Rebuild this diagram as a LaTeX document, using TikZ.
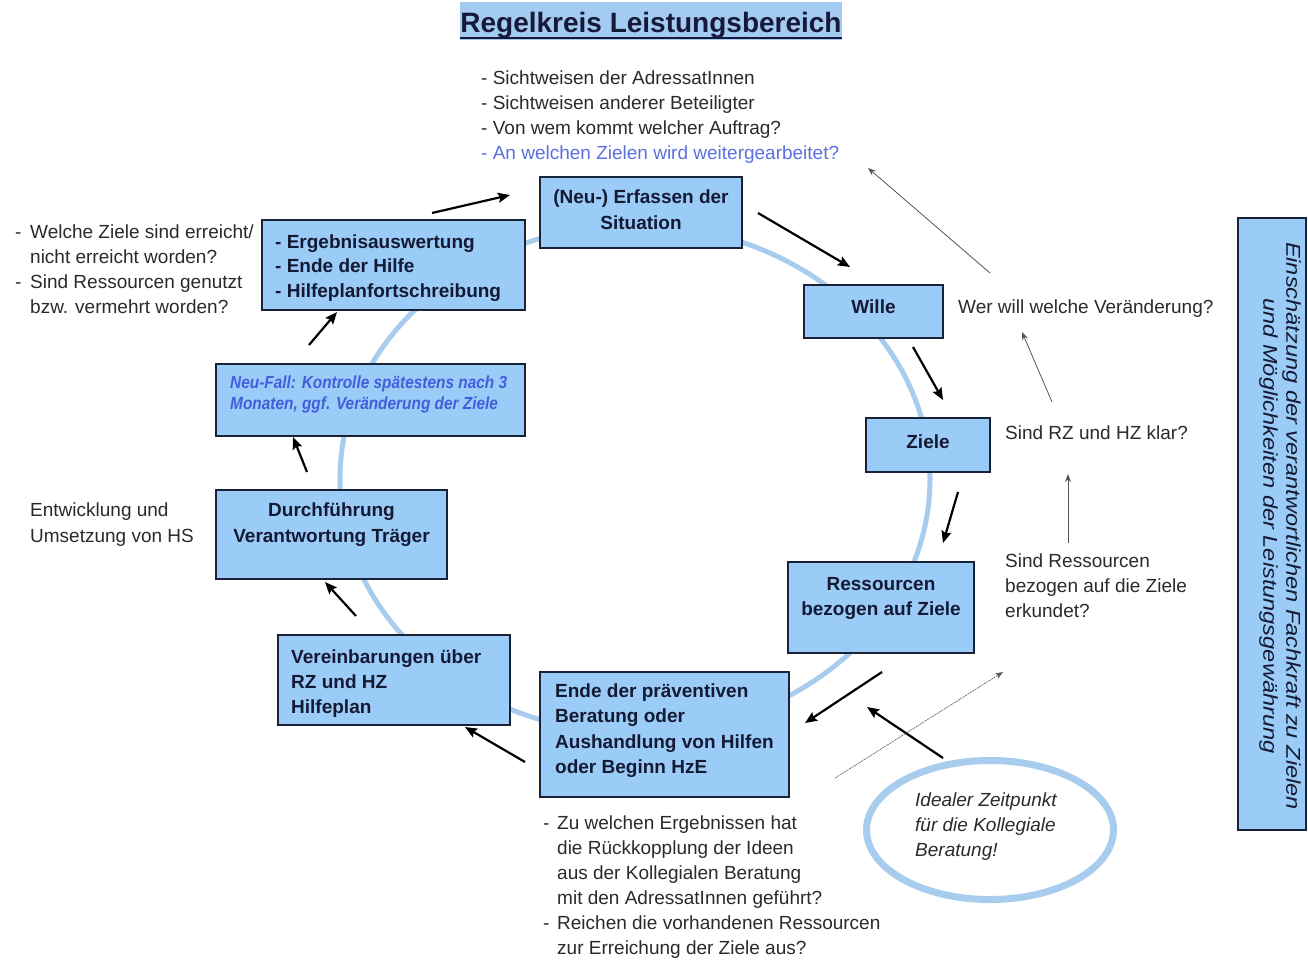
\documentclass[tikz,border=0pt]{standalone}
\usepackage{fontspec}
\usepackage{graphicx}
\setmainfont{Liberation Sans}
\usetikzlibrary{arrows.meta,shapes.geometric}
\definecolor{boxfill}{HTML}{9BCBF7}
\definecolor{boxdraw}{HTML}{1A2238}
\definecolor{boxtext}{HTML}{141A33}
\definecolor{circcol}{HTML}{A8CCEE}
\definecolor{titlebg}{HTML}{A3CBF2}
\definecolor{titlecol}{HTML}{16193A}
\definecolor{txtcol}{HTML}{2A2A2A}
\definecolor{bluetxt}{HTML}{5B6FE0}
\definecolor{neutxt}{HTML}{3F5FDD}
\definecolor{thincol}{HTML}{555555}
\begin{document}
\begin{tikzpicture}[x=1pt,y=-1pt,
  box/.style={draw=boxdraw, line width=1.6pt, fill=boxfill, rectangle, inner sep=0pt},
  btxt/.style={font=\fontsize{19}{25}\selectfont\bfseries, text=boxtext, inner sep=0pt},
  ptxt/.style={font=\fontsize{19}{25}\selectfont, text=txtcol, inner sep=0pt, anchor=base west, align=left},
  circ/.style={draw=circcol, line width=5pt},
  thick arrow/.style={draw=black, line width=2.2pt, -{Stealth[length=12pt,width=10pt,inset=2pt]}},
  thin arrow/.style={draw=thincol, line width=0.8pt, -{Stealth[length=8pt,width=6pt]}}
]
\useasboundingbox (0,0) rectangle (1308,960);

% big cycle
\draw[circ] (635,479) ellipse [x radius=295, y radius=254];

% title
\node[anchor=base, fill=titlebg, text=titlecol, font=\fontsize{28}{30}\selectfont\bfseries,
      inner sep=0pt, text height=31pt, text depth=7pt, minimum width=378pt] (title) at (651,33) {Regelkreis Leistungsbereich};
\draw[line width=2.2pt, titlecol] ([yshift=-5pt]title.base west) -- ([yshift=-5pt]title.base east);

% boxes
\node[box, minimum width=202pt, minimum height=71pt] (erf) at (641,212.5) {};
\node[box, minimum width=139pt, minimum height=53pt] (wille) at (873.5,311.5) {};
\node[box, minimum width=124pt, minimum height=54pt] (ziele) at (928,445) {};
\node[box, minimum width=186pt, minimum height=91pt] (ress) at (881,607.5) {};
\node[box, minimum width=249pt, minimum height=125pt] (ende) at (664.5,734.5) {};
\node[box, minimum width=232pt, minimum height=90pt] (verein) at (394,680) {};
\node[box, minimum width=231pt, minimum height=89pt] (durch) at (331.5,534.5) {};
\node[box, minimum width=309pt, minimum height=72pt] (neu) at (370.5,400) {};
\node[box, minimum width=263pt, minimum height=90pt] (erg) at (393.5,265) {};
\node[box, minimum width=68pt, minimum height=612pt] (eins) at (1272,524) {};

% box texts (base anchor = baseline of the last line)
\node[btxt, anchor=base, align=center] (erfT) at (641,229) {(Neu-) Erfassen der\\Situation};
\node[btxt, anchor=base] (willeT) at (873.5,313) {Wille};
\node[btxt, anchor=base] (zieleT) at (928,448) {Ziele};
\node[btxt, anchor=base, align=center] (ressT) at (881,615) {Ressourcen\\bezogen auf Ziele};
\node[btxt, anchor=base west, align=left, font=\fontsize{19}{25.5}\selectfont\bfseries] (endeT) at (555,773.5)
  {Ende der präventiven\\Beratung oder\\Aushandlung von Hilfen\\oder Beginn HzE};
\node[btxt, anchor=base west, align=left] (vereinT) at (291,713) {Vereinbarungen über\\RZ und HZ\\Hilfeplan};
\node[btxt, anchor=base, align=center, font=\fontsize{19}{26}\selectfont\bfseries] (durchT) at (331.5,542)
  {Durchführung\\Verantwortung Träger};
\node[btxt, anchor=base west, align=left, text=neutxt, font=\fontsize{17.5}{21}\selectfont\bfseries\itshape] (neuT) at (230,409)
  {\scalebox{0.88}[1]{Neu-Fall: Kontrolle spätestens nach 3}\\\scalebox{0.88}[1]{Monaten, ggf. Veränderung der Ziele}};
\node[btxt, anchor=base west, align=left, font=\fontsize{19}{24.5}\selectfont\bfseries] (ergT) at (275,297)
  {- Ergebnisauswertung\\- Ende der Hilfe\\- Hilfeplanfortschreibung};
\node[inner sep=0pt, rotate=-90, align=center, text=boxtext, font=\fontsize{20}{23}\selectfont\itshape] (einsT) at (1280,526)
  {\scalebox{1.18}[1]{Einschätzung der verantwortlichen Fachkraft zu Zielen}\\\scalebox{1.18}[1]{und Möglichkeiten der Leistungsgewährung}};

% free texts
\node[ptxt] (topT) at (481,160) {- Sichtweisen der AdressatInnen\\- Sichtweisen anderer Beteiligter\\- Von wem kommt welcher Auftrag?\\\textcolor{bluetxt}{- An welchen Zielen wird weitergearbeitet?}};
\node[ptxt] (leftT) at (15,313) {\makebox[15pt][l]{-}Welche Ziele sind erreicht/\\\hspace*{15pt}nicht erreicht worden?\\\makebox[15pt][l]{-}Sind Ressourcen genutzt\\\hspace*{15pt}bzw. vermehrt worden?};
\node[ptxt] (werT) at (958,313) {Wer will welche Veränderung?};
\node[ptxt] (rzT) at (1005,439) {Sind RZ und HZ klar?};
\node[ptxt] (resqT) at (1005,617) {Sind Ressourcen\\bezogen auf die Ziele\\erkundet?};
\node[ptxt, font=\fontsize{19}{26}\selectfont] (entwT) at (30,542) {Entwicklung und\\Umsetzung von HS};
\node[ptxt] (botT) at (543,954) {\makebox[14pt][l]{-}Zu welchen Ergebnissen hat\\\hspace*{14pt}die Rückkopplung der Ideen\\\hspace*{14pt}aus der Kollegialen Beratung\\\hspace*{14pt}mit den AdressatInnen geführt?\\\makebox[14pt][l]{-}Reichen die vorhandenen Ressourcen\\\hspace*{14pt}zur Erreichung der Ziele aus?};

% ellipse
\node[draw=circcol, line width=7pt, ellipse, minimum width=247pt, minimum height=139pt, inner sep=0pt] (ell) at (990,830) {};
\node[ptxt, font=\fontsize{19}{25}\selectfont\itshape] (ellT) at (915,856) {Idealer Zeitpunkt\\für die Kollegiale\\Beratung!};

% arrow end points
\coordinate (a1s) at (432,213);  \coordinate (a1e) at (510,195);
\coordinate (a2s) at (758,213);  \coordinate (a2e) at (850,267);
\coordinate (a3s) at (913,347);  \coordinate (a3e) at (943,400);
\coordinate (a4s) at (958,492);  \coordinate (a4e) at (943,543);
\coordinate (a5s) at (882,672);  \coordinate (a5e) at (805,723);
\coordinate (a6s) at (943,758);  \coordinate (a6e) at (867,707);
\coordinate (a7s) at (525,762);  \coordinate (a7e) at (465,727);
\coordinate (a8s) at (356,616);  \coordinate (a8e) at (325,582);
\coordinate (a9s) at (307,472);  \coordinate (a9e) at (293,437);
\coordinate (a10s) at (309,345); \coordinate (a10e) at (337,312);
\coordinate (b1s) at (990,273);  \coordinate (b1e) at (868,168);
\coordinate (b2s) at (1052,402); \coordinate (b2e) at (1022,332);
\coordinate (b3s) at (1068,543); \coordinate (b3e) at (1068,474);
\coordinate (b4s) at (835,778);  \coordinate (b4e) at (1003,672);

\draw[thick arrow] (a1s) -- (a1e);
\draw[thick arrow] (a2s) -- (a2e);
\draw[thick arrow] (a3s) -- (a3e);
\draw[thick arrow] (a4s) -- (a4e);
\draw[thick arrow] (a5s) -- (a5e);
\draw[thick arrow] (a6s) -- (a6e);
\draw[thick arrow] (a7s) -- (a7e);
\draw[thick arrow] (a8s) -- (a8e);
\draw[thick arrow] (a9s) -- (a9e);
\draw[thick arrow] (a10s) -- (a10e);
\draw[thin arrow] (b1s) -- (b1e);
\draw[thin arrow] (b2s) -- (b2e);
\draw[thin arrow] (b3s) -- (b3e);
\draw[thin arrow, line width=0.6pt, dash pattern=on 2pt off 0.8pt] (b4s) -- (b4e);
\end{tikzpicture}
\end{document}
